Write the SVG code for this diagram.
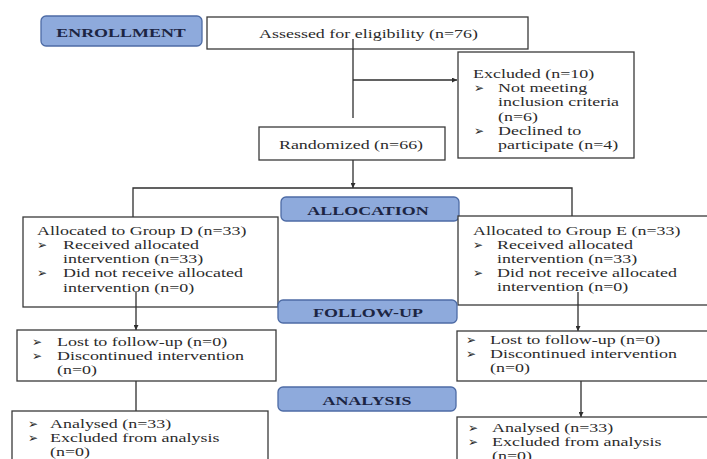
<svg xmlns="http://www.w3.org/2000/svg" width="707" height="459" viewBox="0 0 707 459">
<style>
  .bg{fill:#ffffff}
  .box{fill:#ffffff;stroke:#3a3a3a;stroke-width:1.3}
  .lbl{fill:#8eaadc;stroke:#4d6ba5;stroke-width:1.3}
  .t{font-family:"Liberation Serif","Times New Roman",serif;font-size:13.5px;fill:#2b2b2b}
  .lt{font-family:"Liberation Serif","Times New Roman",serif;font-size:13.5px;font-weight:bold;fill:#1c2543}
  .b{font-family:"DejaVu Sans",sans-serif;font-size:12px;fill:#2b2b2b}
  .c{fill:none;stroke:#2e2e2e;stroke-width:1.3}
</style>
<defs>
  <marker id="ah" viewBox="0 0 10 10" refX="10" refY="5" markerWidth="5" markerHeight="5" orient="auto" markerUnits="userSpaceOnUse">
    <path d="M0,0 L10,5 L0,10 z" fill="#2e2e2e"/>
  </marker>
</defs>
<rect class="bg" x="0" y="0" width="707" height="459"/>

<g id="connectors">
  <line class="c" x1="353" y1="39" x2="353" y2="118"/>
  <line class="c" x1="353" y1="80" x2="457" y2="80" marker-end="url(#ah)"/>
  <line class="c" x1="353" y1="160" x2="353" y2="188" marker-end="url(#ah)"/>
  <polyline class="c" points="133,217 133,188 572,188 572,216"/>
  <line class="c" x1="136" y1="292" x2="136" y2="330" marker-end="url(#ah)"/>
  <line class="c" x1="578" y1="292" x2="578" y2="331" marker-end="url(#ah)"/>
  <line class="c" x1="136" y1="381" x2="136" y2="411"/>
  <line class="c" x1="581" y1="381" x2="581" y2="417" marker-end="url(#ah)"/>
</g>

<g id="enrollment">
  <rect class="lbl" x="41" y="16" width="161" height="30" rx="5"/>
  <text class="lt" text-anchor="middle" transform="translate(121 36.5) scale(1.33 1)">ENROLLMENT</text>
</g>

<g id="assessed">
  <rect class="box" x="207" y="17" width="321" height="32"/>
  <text class="t" text-anchor="middle" transform="translate(368.5 37.5) scale(1.33 1)">Assessed for eligibility (n=76)</text>
</g>
<line class="c" x1="353" y1="39" x2="353" y2="49"/>

<g id="excluded">
  <rect class="box" x="458" y="52" width="176" height="106"/>
  <text class="t" transform="translate(473 77.8) scale(1.33 1)">Excluded (n=10)</text>
  <text class="b" x="474" y="92">➢</text>
  <text class="t" transform="translate(498 92.1) scale(1.33 1)">Not meeting</text>
  <text class="t" transform="translate(498 106.4) scale(1.33 1)">inclusion criteria</text>
  <text class="t" transform="translate(498 120.7) scale(1.33 1)">(n=6)</text>
  <text class="b" x="474" y="135">➢</text>
  <text class="t" transform="translate(498 135) scale(1.33 1)">Declined to</text>
  <text class="t" transform="translate(498 149.3) scale(1.33 1)">participate (n=4)</text>
</g>

<g id="randomized">
  <rect class="box" x="259" y="127" width="186" height="33"/>
  <text class="t" text-anchor="middle" transform="translate(351 148.5) scale(1.33 1)">Randomized (n=66)</text>
</g>

<g id="allocation">
  <rect class="lbl" x="281" y="197" width="178" height="24" rx="5"/>
  <text class="lt" text-anchor="middle" transform="translate(368 214.5) scale(1.33 1)">ALLOCATION</text>
</g>

<g id="groupD">
  <rect class="box" x="23" y="217" width="255" height="90"/>
  <text class="t" transform="translate(37 234.5) scale(1.33 1)">Allocated to Group D (n=33)</text>
  <text class="b" x="37" y="248.5">➢</text>
  <text class="t" transform="translate(63 248.8) scale(1.33 1)">Received allocated</text>
  <text class="t" transform="translate(63 263.1) scale(1.33 1)">intervention (n=33)</text>
  <text class="b" x="37" y="277">➢</text>
  <text class="t" transform="translate(63 277.4) scale(1.33 1)">Did not receive allocated</text>
  <text class="t" transform="translate(63 291.7) scale(1.33 1)">intervention (n=0)</text>
</g>
<line class="c" x1="136" y1="292" x2="136" y2="307"/>

<g id="groupE">
  <rect class="box" x="458" y="216" width="252" height="89"/>
  <text class="t" transform="translate(473 234.5) scale(1.33 1)">Allocated to Group E (n=33)</text>
  <text class="b" x="473" y="248.5">➢</text>
  <text class="t" transform="translate(497 248.7) scale(1.33 1)">Received allocated</text>
  <text class="t" transform="translate(497 262.9) scale(1.33 1)">intervention (n=33)</text>
  <text class="b" x="473" y="277">➢</text>
  <text class="t" transform="translate(497 277.1) scale(1.33 1)">Did not receive allocated</text>
  <text class="t" transform="translate(497 291.3) scale(1.33 1)">intervention (n=0)</text>
</g>
<line class="c" x1="578" y1="292" x2="578" y2="305"/>

<g id="followup">
  <rect class="lbl" x="278" y="300" width="179" height="23" rx="5"/>
  <text class="lt" text-anchor="middle" transform="translate(368 316.5) scale(1.33 1)">FOLLOW-UP</text>
</g>

<g id="followD">
  <rect class="box" x="17" y="330" width="259" height="51"/>
  <text class="b" x="32" y="345.5">➢</text>
  <text class="t" transform="translate(57 346) scale(1.33 1)">Lost to follow-up (n=0)</text>
  <text class="b" x="32" y="359.5">➢</text>
  <text class="t" transform="translate(57 360) scale(1.33 1)">Discontinued intervention</text>
  <text class="t" transform="translate(57 374) scale(1.33 1)">(n=0)</text>
</g>

<g id="followE">
  <rect class="box" x="457" y="331" width="253" height="50"/>
  <text class="b" x="466" y="343.5">➢</text>
  <text class="t" transform="translate(490 344) scale(1.33 1)">Lost to follow-up (n=0)</text>
  <text class="b" x="466" y="357.5">➢</text>
  <text class="t" transform="translate(490 358) scale(1.33 1)">Discontinued intervention</text>
  <text class="t" transform="translate(490 372) scale(1.33 1)">(n=0)</text>
</g>

<g id="analysis">
  <rect class="lbl" x="278" y="387" width="178" height="24" rx="5"/>
  <text class="lt" text-anchor="middle" transform="translate(367 404.5) scale(1.33 1)">ANALYSIS</text>
</g>

<g id="analysisD">
  <rect class="box" x="12" y="411" width="256" height="60"/>
  <text class="b" x="28" y="427.5">➢</text>
  <text class="t" transform="translate(50 428) scale(1.33 1)">Analysed (n=33)</text>
  <text class="b" x="28" y="441.5">➢</text>
  <text class="t" transform="translate(50 442) scale(1.33 1)">Excluded from analysis</text>
  <text class="t" transform="translate(50 456) scale(1.33 1)">(n=0)</text>
</g>

<g id="analysisE">
  <rect class="box" x="457" y="417" width="253" height="60"/>
  <text class="b" x="468" y="431.5">➢</text>
  <text class="t" transform="translate(492 432) scale(1.33 1)">Analysed (n=33)</text>
  <text class="b" x="468" y="445.5">➢</text>
  <text class="t" transform="translate(492 446) scale(1.33 1)">Excluded from analysis</text>
  <text class="t" transform="translate(492 460) scale(1.33 1)">(n=0)</text>
</g>
</svg>
